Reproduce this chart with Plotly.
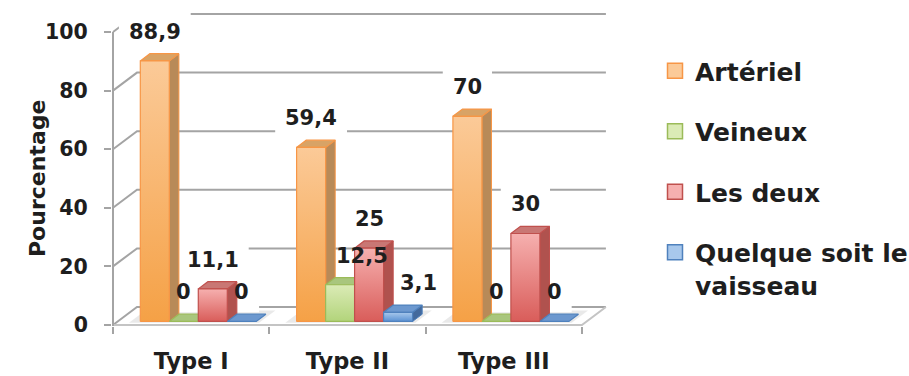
import plotly.graph_objects as go

# ---- data ----
categories = ["Type I", "Type II", "Type III"]
series_names = ["Artériel", "Veineux", "Les deux", "Quelque soit le<br>vaisseau"]
arteriel = [88.9, 59.4, 70.0]
veineux = [0.0, 12.5, 0.0]
les_deux = [11.1, 25.0, 30.0]
quelque_soit = [0.0, 3.1, 0.0]
value_ticks = [0, 20, 40, 60, 80, 100]

series_values = [arteriel, veineux, les_deux, quelque_soit]

# ---- styling ----
FONT = "DejaVu Sans"
INK = "#1e1e1e"
GRID = "#a4a4a4"
FLOOR_EDGE = "#c4c4c4"
palette = [
    dict(top="#fbca98", bottom="#f5a146", side="#b88a58", cap="#d8a366", edge="#f79646"),
    dict(top="#dbebb6", bottom="#b2d47b", side="#8ba65a", cap="#a9c67d", edge="#9bbb59"),
    dict(top="#f6b0af", bottom="#d95d5a", side="#b0524e", cap="#c97774", edge="#c0504d"),
    dict(top="#a8c8ec", bottom="#5a91d3", side="#43699c", cap="#6c98cf", edge="#4f81bd"),
]
# data labels that were pulled sideways off their bar (pixels)
label_nudge = {(1, 1): 22, (3, 1): 20}

# ---- page / axis geometry (pixels) ----
W, H = 909, 376
M_L, M_R, M_T, M_B = 112, 287, 5, 50
ORIGIN_PX_X = 113.0     # pixel column of the category axis origin
CAT_PX = 156.3          # pixels per category
ORIGIN_PX_Y = 325.0     # pixel row of value 0 on the front plane
VAL_PX = 2.93           # pixels per percentage point
plot_w = W - M_L - M_R
plot_h = H - M_T - M_B
x_min = -(ORIGIN_PX_X - M_L) / CAT_PX
x_max = x_min + plot_w / CAT_PX
y_min = -((H - M_B) - ORIGIN_PX_Y) / VAL_PX
y_max = y_min + plot_h / VAL_PX

# oblique projection: depth d in [0, 1] moves a point right and up
DEPTH_X = 24 / CAT_PX
DEPTH_Y = 18 / VAL_PX
BAR_FRONT, BAR_BACK = 0.2, 0.6
BAR_OFFSET = 0.144
BAR_WIDTH = 0.1855
N_CAT = len(categories)


def proj(x, v, d):
    return x + d * DEPTH_X, v + d * DEPTH_Y


def poly(points):
    xs, ys = zip(*(proj(*p) for p in points))
    return list(xs) + [xs[0]], list(ys) + [ys[0]]


fig = go.Figure()
shapes = []

# floor shadows under each group
for j in range(N_CAT):
    x0 = j + BAR_OFFSET - 0.06
    x1 = j + BAR_OFFSET + 4 * BAR_WIDTH + 0.03
    pts = [proj(x0, 0, 0.12), proj(x1, 0, 0.12), proj(x1, 0, 0.8), proj(x0, 0, 0.8)]
    path = "M " + " L ".join(f"{px},{py}" for px, py in pts) + " Z"
    shapes.append(dict(type="path", path=path, xref="x", yref="y", layer="below",
                       fillcolor="rgba(120,120,120,0.16)", line=dict(width=0)))

# back wall gridlines with their receding segment from the front axis
for v in value_ticks:
    a, b, c = proj(0, v, 0), proj(0, v, 1), proj(N_CAT, v, 1)
    shapes.append(dict(type="path", xref="x", yref="y", layer="below",
                       path=f"M {a[0]},{a[1]} L {b[0]},{b[1]} L {c[0]},{c[1]}",
                       line=dict(color=GRID, width=2)))

# floor front and right edges
f0, f1, f2 = proj(0, 0, 0), proj(N_CAT, 0, 0), proj(N_CAT, 0, 1)
shapes.append(dict(type="path", xref="x", yref="y", layer="below",
                   path=f"M {f0[0]},{f0[1]} L {f1[0]},{f1[1]} L {f2[0]},{f2[1]}",
                   line=dict(color=FLOOR_EDGE, width=2)))

LABEL_SIZE = 21
LABEL_LIFT = 22


def fmt(v):
    return f"{v:g}".replace(".", ",")


def text_px(s, size):
    return sum((0.38 if ch == "," else 0.696) for ch in s) * size


annotations = []
for j in range(N_CAT):
    for k, vals in enumerate(series_values):
        v = vals[j]
        col = palette[k]
        xl = j + BAR_OFFSET + k * BAR_WIDTH
        xr = xl + BAR_WIDTH
        if v > 0:
            sx, sy = poly([(xr, 0, BAR_FRONT), (xr, 0, BAR_BACK), (xr, v, BAR_BACK), (xr, v, BAR_FRONT)])
            fig.add_trace(go.Scatter(x=sx, y=sy, mode="lines", fill="toself", fillcolor=col["side"],
                                     line=dict(color=col["edge"], width=1), hoverinfo="skip",
                                     showlegend=False))
        tx, ty = poly([(xl, v, BAR_FRONT), (xr, v, BAR_FRONT), (xr, v, BAR_BACK), (xl, v, BAR_BACK)])
        fig.add_trace(go.Scatter(x=tx, y=ty, mode="lines", fill="toself", fillcolor=col["cap"],
                                 line=dict(color=col["edge"], width=1.2), hoverinfo="skip",
                                 showlegend=False))
        if v > 0:
            fx, fy = poly([(xl, 0, BAR_FRONT), (xr, 0, BAR_FRONT), (xr, v, BAR_FRONT), (xl, v, BAR_FRONT)])
            fig.add_trace(go.Scatter(
                x=fx, y=fy, mode="lines", fill="toself",
                fillgradient=dict(type="vertical",
                                  colorscale=[[0, col["bottom"]], [1, col["top"]]]),
                line=dict(color=col["edge"], width=1.2), hoverinfo="skip", showlegend=False))

        # value label above the back edge of the bar top
        cx, _ = proj((xl + xr) / 2, v, BAR_FRONT)
        _, cy = proj(xl, v, BAR_BACK)
        text = fmt(v)
        nudge = label_nudge.get((k, j), 0)
        annotations.append(dict(x=cx, y=cy, xref="x", yref="y", text=text, showarrow=False,
                                xshift=nudge, yshift=LABEL_LIFT,
                                font=dict(family=FONT, size=LABEL_SIZE, color=INK, weight="bold")))
        if nudge == 0:
            w = text_px(text, LABEL_SIZE) + 20
            shapes.append(dict(type="rect", xref="x", yref="y", layer="below",
                               xsizemode="pixel", ysizemode="pixel",
                               xanchor=cx, yanchor=cy,
                               x0=-w / 2, x1=w / 2, y0=LABEL_LIFT - 20, y1=LABEL_LIFT + 20,
                               fillcolor="white", line=dict(width=0)))

# front value axis line
fig.add_trace(go.Scatter(x=[0, 0], y=[y_min, value_ticks[-1]], mode="lines",
                         line=dict(color=GRID, width=2), hoverinfo="skip", showlegend=False))

# legend entries
for k, name in enumerate(series_names):
    col = palette[k]
    fig.add_trace(go.Scatter(x=[None], y=[None], mode="markers", name=name, legendgroup=str(k),
                             marker=dict(symbol="square", size=15, color=col["top"],
                                         line=dict(color=col["edge"], width=1.5))))

annotations.append(dict(text="Pourcentage", textangle=-90, showarrow=False,
                        xref="paper", yref="paper",
                        x=(22.5 - M_L) / plot_w, y=((H - M_B) - 179) / plot_h,
                        font=dict(family=FONT, size=22, color=INK, weight="bold")))

fig.update_layout(
    width=W, height=H,
    margin=dict(l=M_L, r=M_R, t=M_T, b=M_B, autoexpand=False),
    paper_bgcolor="white", plot_bgcolor="white",
    shapes=shapes, annotations=annotations,
    showlegend=True,
    legend=dict(xref="container", yref="container", x=655 / W, y=1 - 48 / H,
                xanchor="left", yanchor="top", valign="top", tracegroupgap=25,
                maxheight=360,
                font=dict(family=FONT, size=25, color=INK, weight="bold"),
                bgcolor="rgba(0,0,0,0)"),
    xaxis=dict(range=[x_min, x_max], showgrid=False, zeroline=False, showline=False,
               automargin=False,
               tickmode="array", tickvals=[j + 0.5 for j in range(N_CAT)], ticktext=categories,
               ticks="", ticklabelstandoff=19,
               tickfont=dict(family=FONT, size=22.5, color=INK, weight="bold"),
               minor=dict(tickmode="array", tickvals=list(range(N_CAT + 1)), ticks="outside",
                          ticklen=7, tickwidth=2, tickcolor=GRID),
               fixedrange=True),
    yaxis=dict(range=[y_min, y_max], showgrid=False, zeroline=False, showline=False,
               automargin=False,
               tickmode="array", tickvals=value_ticks, ticks="outside", ticklen=7,
               tickwidth=2, tickcolor=GRID, ticklabelstandoff=12,
               tickfont=dict(family=FONT, size=20.5, color=INK, weight="bold"),
               fixedrange=True),
)

fig.write_html("out.html")
